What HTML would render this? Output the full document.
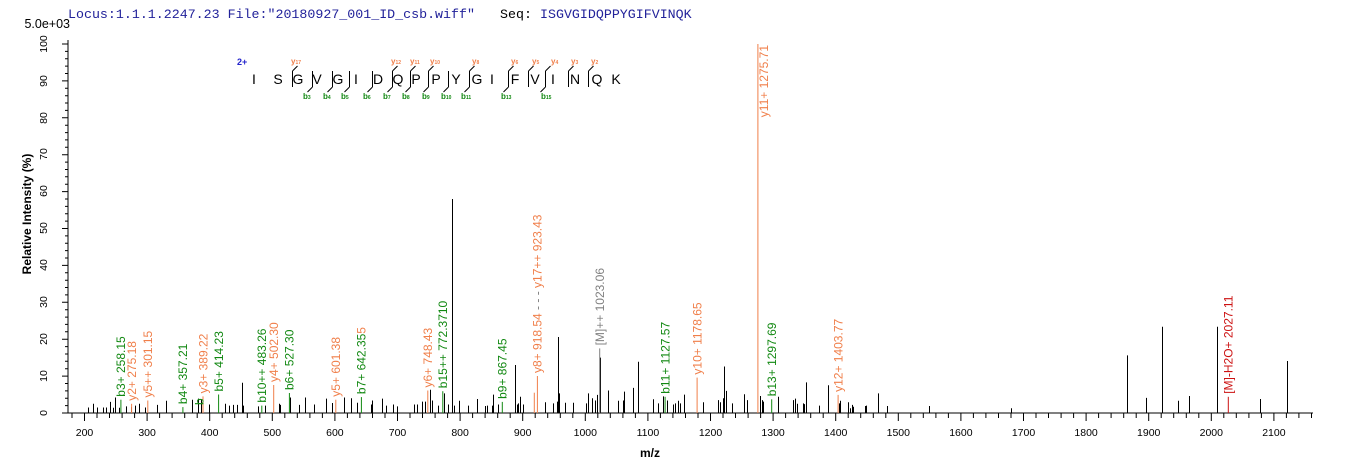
<!DOCTYPE html>
<html><head><meta charset="utf-8"><style>
body{margin:0;background:#fff;}
svg{display:block;font-family:"Liberation Sans",Arial,sans-serif;}
.t{font-size:12px;}
.o{fill:#f07f4a}.g{fill:#118811}.gr{fill:#808080}.r{fill:#cc1111}
.tk{font-size:10.5px;fill:#000}
.sl{font-size:8px;font-weight:bold}
</style></head><body>
<svg id="s" width="1362" height="473" viewBox="0 0 1362 473" xmlns="http://www.w3.org/2000/svg">
<rect width="1362" height="473" fill="#fff"/>
<text x="68" y="18" font-family="Liberation Mono,monospace" font-size="13.3" fill="#22229a">Locus:1.1.1.2247.23 File:"20180927_001_ID_csb.wiff"</text>
<text x="500" y="18" font-family="Liberation Mono,monospace" font-size="13.3" fill="#000">Seq:</text>
<text x="540" y="18" font-family="Liberation Mono,monospace" font-size="13.3" fill="#22229a">ISGVGIDQPPYGIFVINQK</text>
<text x="70" y="28" font-size="12.5" text-anchor="end">5.0e+03</text>
<text transform="translate(31,214) rotate(-90)" text-anchor="middle" font-size="12" font-weight="bold">Relative   Intensity (%)</text>
<text x="650" y="457" text-anchor="middle" font-size="12" font-weight="bold">m/z</text>

<g id="axes" stroke="#000" fill="none" stroke-width="1"></g>
<g id="peaks" stroke="#000" stroke-width="1"></g>

<!-- y tick labels -->
<g class="tk" text-anchor="middle">
<text transform="translate(47,413) rotate(-90)">0</text>
<text transform="translate(47,376) rotate(-90)">10</text>
<text transform="translate(47,339) rotate(-90)">20</text>
<text transform="translate(47,302) rotate(-90)">30</text>
<text transform="translate(47,265) rotate(-90)">40</text>
<text transform="translate(47,228) rotate(-90)">50</text>
<text transform="translate(47,191) rotate(-90)">60</text>
<text transform="translate(47,154) rotate(-90)">70</text>
<text transform="translate(47,118) rotate(-90)">80</text>
<text transform="translate(47,81) rotate(-90)">90</text>
<text transform="translate(47,44) rotate(-90)">100</text>
</g>
<g class="tk" text-anchor="middle" id="xl"></g>

<!-- annotated peaks -->
<g stroke-width="1">
<line x1="120.9" y1="413" x2="120.9" y2="399.7" stroke="#118811"/>
<line x1="131.6" y1="413" x2="131.6" y2="403.8" stroke="#f07f4a"/>
<line x1="147.8" y1="413" x2="147.8" y2="400.5" stroke="#f07f4a"/>
<line x1="182.9" y1="413" x2="182.9" y2="407.1" stroke="#118811"/>
<line x1="203" y1="413" x2="203" y2="396.4" stroke="#f07f4a"/>
<line x1="218.6" y1="413" x2="218.6" y2="394.5" stroke="#118811"/>
<line x1="261.8" y1="413" x2="261.8" y2="405.6" stroke="#118811"/>
<line x1="273.7" y1="413" x2="273.7" y2="385" stroke="#f07f4a"/>
<line x1="289.4" y1="413" x2="289.4" y2="393" stroke="#118811"/>
<line x1="335.8" y1="413" x2="335.8" y2="399.7" stroke="#f07f4a"/>
<line x1="361.4" y1="413" x2="361.4" y2="397.1" stroke="#118811"/>
<line x1="427.8" y1="413" x2="427.8" y2="390.5" stroke="#f07f4a"/>
<line x1="442.8" y1="413" x2="442.8" y2="391.2" stroke="#118811"/>
<line x1="502.3" y1="413" x2="502.3" y2="401.9" stroke="#118811"/>
<line x1="534.3" y1="413" x2="534.3" y2="392.7" stroke="#f07f4a"/>
<line x1="537.4" y1="413" x2="537.4" y2="376" stroke="#f07f4a"/>
<line x1="599.7" y1="413" x2="599.7" y2="348.4" stroke="#808080"/>
<line x1="665.1" y1="413" x2="665.1" y2="396.8" stroke="#118811"/>
<line x1="697.1" y1="413" x2="697.1" y2="377.6" stroke="#f07f4a"/>
<line x1="757.9" y1="413" x2="757.9" y2="44" stroke="#f07f4a"/>
<line x1="771.7" y1="413" x2="771.7" y2="399.3" stroke="#118811"/>
<line x1="838.1" y1="413" x2="838.1" y2="394.9" stroke="#f07f4a"/>
<line x1="1228.3" y1="413" x2="1228.3" y2="396.8" stroke="#cc1111"/>
</g>
<g class="t">
<text class="g" transform="translate(125.2,396.7) rotate(-90)">b3+ 258.15</text>
<text class="o" transform="translate(135.9,400.8) rotate(-90)">y2+ 275.18</text>
<text class="o" transform="translate(152.1,397.5) rotate(-90)">y5++ 301.15</text>
<text class="g" transform="translate(187.2,404.1) rotate(-90)">b4+ 357.21</text>
<text class="g" transform="translate(203.3,405) rotate(-90)">b</text>
<text class="o" transform="translate(207.3,393.4) rotate(-90)">y3+ 389.22</text>
<text class="g" transform="translate(222.9,391.5) rotate(-90)">b5+ 414.23</text>
<text class="g" transform="translate(266.1,402.6) rotate(-90)">b10++ 483.26</text>
<text class="o" transform="translate(278,382) rotate(-90)">y4+ 502.30</text>
<text class="g" transform="translate(293.7,390) rotate(-90)">b6+ 527.30</text>
<text class="o" transform="translate(340.1,396.7) rotate(-90)">y5+ 601.38</text>
<text class="g" transform="translate(365.7,394.1) rotate(-90)">b7+ 642.35<tspan class="o">5</tspan></text>
<text class="o" transform="translate(432.1,387.5) rotate(-90)">y6+ 748.43</text>
<text class="g" transform="translate(447.1,388.2) rotate(-90)">b15++ 772.3710</text>
<text class="g" transform="translate(506.6,398.9) rotate(-90)">b9+ 867.45</text>
<text transform="translate(541.5,373) rotate(-90)"><tspan class="o">y8+ 918.54</tspan><tspan class="gr"> - - - </tspan><tspan class="o">y17++ 923.43</tspan></text>
<text class="gr" transform="translate(604,345.4) rotate(-90)">[M]++ 1023.06</text>
<text class="g" transform="translate(669.4,393.8) rotate(-90)">b11+ 1127.57</text>
<text class="o" transform="translate(701.4,374.6) rotate(-90)">y10+ 1178.65</text>
<text class="o" text-anchor="end" transform="translate(768,45) rotate(-90)">y11+ 1275.71</text>
<text class="g" transform="translate(776,396.3) rotate(-90)">b13+ 1297.69</text>
<text class="o" transform="translate(842.4,391.9) rotate(-90)">y12+ 1403.77</text>
<text class="r" transform="translate(1232.6,393.8) rotate(-90)">[M]-H2O+ 2027.11</text>
</g>

<!-- fragment diagram -->
<text x="237" y="65" font-size="9" font-weight="bold" fill="#2222cc">2+</text>
<g font-size="14" text-anchor="middle" fill="#000">
<text x="254" y="84">I</text><text x="278" y="84">S</text><text x="298" y="84">G</text><text x="317" y="84">V</text>
<text x="338" y="84">G</text><text x="356" y="84">I</text><text x="378" y="84">D</text><text x="398" y="84">Q</text>
<text x="416" y="84">P</text><text x="436" y="84">P</text><text x="456" y="84">Y</text><text x="477" y="84">G</text>
<text x="492" y="84">I</text><text x="515" y="84">F</text><text x="535" y="84">V</text><text x="553" y="84">I</text>
<text x="575" y="84">N</text><text x="597" y="84">Q</text><text x="616" y="84">K</text>
</g>
<g id="frag" stroke="#000" fill="none" stroke-width="1"></g>
<g class="sl">
<text class="o" x="291" y="64">y<tspan font-size="5">17</tspan></text>
<text class="o" x="391" y="64">y<tspan font-size="5">12</tspan></text>
<text class="o" x="410" y="64">y<tspan font-size="5">11</tspan></text>
<text class="o" x="430" y="64">y<tspan font-size="5">10</tspan></text>
<text class="o" x="472" y="64">y<tspan font-size="5">8</tspan></text>
<text class="o" x="511" y="64">y<tspan font-size="5">6</tspan></text>
<text class="o" x="532" y="64">y<tspan font-size="5">5</tspan></text>
<text class="o" x="551" y="64">y<tspan font-size="5">4</tspan></text>
<text class="o" x="571" y="64">y<tspan font-size="5">3</tspan></text>
<text class="o" x="591" y="64">y<tspan font-size="5">2</tspan></text>
<text class="g" x="303" y="99">b<tspan font-size="5">3</tspan></text>
<text class="g" x="323" y="99">b<tspan font-size="5">4</tspan></text>
<text class="g" x="341" y="99">b<tspan font-size="5">5</tspan></text>
<text class="g" x="363" y="99">b<tspan font-size="5">6</tspan></text>
<text class="g" x="383" y="99">b<tspan font-size="5">7</tspan></text>
<text class="g" x="402" y="99">b<tspan font-size="5">8</tspan></text>
<text class="g" x="422" y="99">b<tspan font-size="5">9</tspan></text>
<text class="g" x="441" y="99">b<tspan font-size="5">10</tspan></text>
<text class="g" x="461" y="99">b<tspan font-size="5">11</tspan></text>
<text class="g" x="501" y="99">b<tspan font-size="5">13</tspan></text>
<text class="g" x="541" y="99">b<tspan font-size="5">15</tspan></text>
</g>
</svg>
<script>
(function(){
var NS="http://www.w3.org/2000/svg";
function X(m){return 84.5+(m-200)*0.626;}
function Y(h){return 413-h*3.69;}
var d="";
d+="M68 40V413M62 413H1313";
for(var v=0;v<=100;v+=2){var yy=Y(v);d+="M"+(v%10==0?62:65)+" "+yy.toFixed(1)+"H68";}
for(var m=180;m<=2160;m+=20){var xx=X(m);if(xx<68||xx>1313)continue;d+="M"+xx.toFixed(1)+" 413V"+(m%100==0?421:418);}
var p=document.createElementNS(NS,"path");p.setAttribute("d",d);document.getElementById("axes").appendChild(p);
var xl=document.getElementById("xl");
for(var m=200;m<=2100;m+=100){var t=document.createElementNS(NS,"text");t.setAttribute("x",X(m).toFixed(1));t.setAttribute("y","436");t.textContent=String(m);xl.appendChild(t);}
var pk=[[88,1.5],[93,2.5],[97,1.5],[103,1.5],[106,1.5],[110,3],[115,4.2],[113,1.4],[119,1.4],[126,1.8],[131,1.6],[135,2],[139,2.5],[145,1.5],[157,2.2],[166,3.3],[192,3.6],[198,3.9],[201,3.6],[209,2.3],[225,2.5],[229,2],[233,2.2],[237,2.2],[242,8.2],[243,2],[258,1.8],[265,2],[279,2.5],[280,2.2],[290,4.2],[299,2.2],[305,4.2],[314,2.3],[326,3.9],[332,2.7],[344,4.2],[351,4],[357,2.8],[371,2.3],[372,3.4],[382,3.9],[386,2],[393,2.3],[397,1.8],[414,2.3],[417,2.3],[422,3.1],[425,3.1],[430,6.3],[432,3.4],[438,2],[444,5.3],[448,2.3],[452,58],[454,2],[459,3.3],[468,2],[477,3.8],[487,2],[492,2],[493,5],[498,2.3],
[485,1.9],[515,13],[517,2.3],[518,2.6],[520,4.4],[523,2.3],[545,2.9],[553,2.6],[557,3.1],[558,20.6],[559,5.3],[565,2.8],[573,2.8],[586,2.6],[588,5.3],[592,4],[595,3.4],[597,4.9],[600,15],[608,6.1],[618,3.3],[623,3.4],[624,5.8],[633,6.8],[638,13.9],[653,3.7],[658,2.6],[663,4.5],[667,3.4],[673,2.3],[675,2.6],[678,3.3],[680,2.6],[684,5],[703,2.9],[718,3.5],[720,2.9],[723,4],[724,12.6],[726,6],[732,2.6],[744,5.1],[747,3.5],[760,4.6],[762,3.5],[763,3.1],[778,4.4],[793,3.5],[795,3.9],[797,2.5],[803,2.6],[804,2.4],[806,8.3],[819,2],[828,7.5],[839,2.6],[840,3.3],[848,2.9],[850,1.3],[852,2.2],[853,1.7],[866,2],[878,5.3],
[865,1.9],[887,1.9],[929,1.9],[1011,1.3],[1127,15.6],[1146,4.1],[1162,23.4],[1178,3.3],[1189,4.6],[1217,23.4],[1260,3.8],[1287,14.1]];
var pd="";pk.forEach(function(a){pd+="M"+(a[0]+0.5)+" 413V"+Y(a[1]).toFixed(1);});
var pp=document.createElementNS(NS,"path");pp.setAttribute("d",pd);document.getElementById("peaks").appendChild(pp);
var sp=[[292,1,0],[312,0,1],[332,0,1],[349,0,1],[372,0,1],[392,1,1],[410,1,1],[428,1,1],[448,0,1],[469,1,1],[508,1,1],[528,1,0],[545,1,1],[568,1,0],[588,1,0]];
var fd="";sp.forEach(function(s){var x=s[0]+0.5;fd+="M"+x+" 71V87";if(s[1])fd+="M"+x+" 71L"+(x+5)+" 66";if(s[2])fd+="M"+x+" 87L"+(x-5)+" 92";});
var fp=document.createElementNS(NS,"path");fp.setAttribute("d",fd);document.getElementById("frag").appendChild(fp);
})();
</script>
</body></html>
